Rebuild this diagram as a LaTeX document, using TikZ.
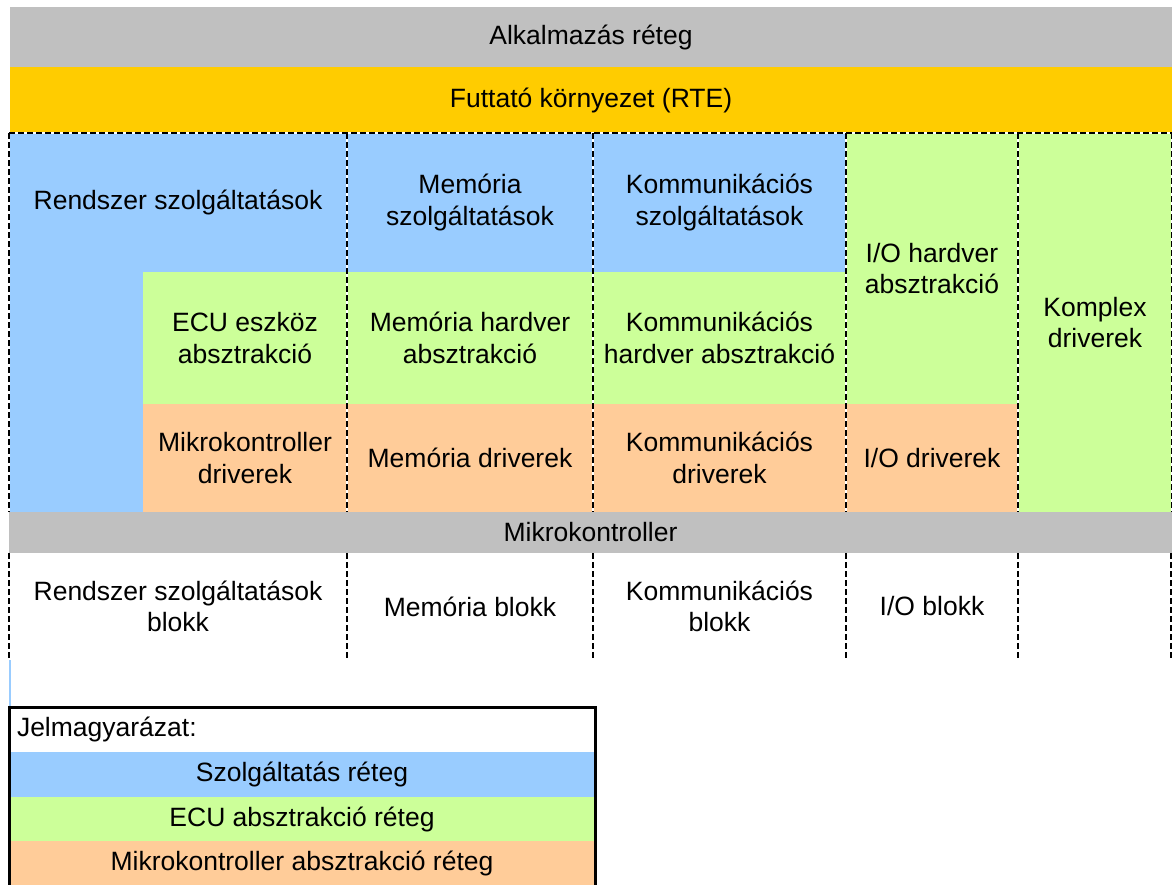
\documentclass[tikz,border=0pt]{standalone}
\usepackage{fontspec}
\setmainfont{Liberation Sans}
\definecolor{appgray}{HTML}{C0C0C0}
\definecolor{rteyellow}{HTML}{FFCC00}
\definecolor{svcblue}{HTML}{99CCFF}
\definecolor{ecugreen}{HTML}{CCFF99}
\definecolor{mcalorange}{HTML}{FFCC99}
% a filled layer box given by its corners: name, x1, y1, x2, y2, colour, text
\newcommand\layerbox[7]{%
  \node[cell,fill=#6,minimum width={(#4)-(#2)},minimum height={(#5)-(#3)}]
    (#1) at ({((#2)+(#4))/2},{((#3)+(#5))/2}) {#7};}
\begin{document}
\begin{tikzpicture}[x=1pt,y=-1pt,
  cell/.style={inner sep=0pt,outer sep=0pt,align=center,
    font=\fontsize{26.5}{31.5}\selectfont,text=black},
  sepwhite/.style={white,line width=2pt},
  sepdash/.style={black,line width=2pt,dash pattern=on 6pt off 3pt},
  legframe/.style={black,line width=3pt}]
\useasboundingbox (0,0) rectangle (1172,884);

% upper layers
\layerbox{app}{10}{7}{1172}{67}{appgray}{Alkalmazás réteg}
\layerbox{rte}{10}{67}{1172}{133}{rteyellow}{Futtató környezet (RTE)}

% service layer
\layerbox{sys}{9}{133}{347}{272}{svcblue}{Rendszer szolgáltatások}
\layerbox{sysl}{9}{272}{143}{512}{svcblue}{}
\layerbox{mems}{347}{133}{593}{272}{svcblue}{Memória\\szolgáltatások}
\layerbox{coms}{593}{133}{846}{272}{svcblue}{Kommunikációs\\szolgáltatások}

% ECU abstraction layer and complex drivers
\layerbox{ioh}{846}{133}{1018}{404}{ecugreen}{I/O hardver\\absztrakció}
\layerbox{cdd}{1018}{133}{1172}{512}{ecugreen}{Komplex\\driverek}
\layerbox{ecu}{143}{272}{347}{404}{ecugreen}{ECU eszköz\\absztrakció}
\layerbox{memh}{347}{272}{593}{404}{ecugreen}{Memória hardver\\absztrakció}
\layerbox{comh}{593}{272}{846}{404}{ecugreen}{Kommunikációs\\hardver absztrakció}

% microcontroller abstraction layer
\layerbox{mcud}{143}{404}{347}{512}{mcalorange}{Mikrokontroller\\driverek}
\layerbox{memd}{347}{404}{593}{512}{mcalorange}{Memória driverek}
\layerbox{comd}{593}{404}{846}{512}{mcalorange}{Kommunikációs\\driverek}
\layerbox{iod}{846}{404}{1018}{512}{mcalorange}{I/O driverek}

% microcontroller and its blocks
\layerbox{mcu}{9}{512}{1172}{553}{appgray}{Mikrokontroller}
\layerbox{sysb}{9}{553}{347}{660}{white}{Rendszer szolgáltatások\\blokk}
\layerbox{memb}{347}{553}{593}{660}{white}{Memória blokk}
\layerbox{comb}{593}{553}{846}{660}{white}{Kommunikációs\\blokk}
\layerbox{iob}{846}{553}{1018}{660}{white}{I/O blokk}
\layerbox{cddb}{1018}{553}{1171}{660}{white}{}
\layerbox{strip}{9}{660}{11}{707}{svcblue}{}

% dashed column separators
\foreach \a/\b in {sys.north west/cdd.north east}{
  \draw[sepwhite] (\a) -- (\b);
  \draw[sepdash] (\a) -- (\b);}
\foreach \a/\b in {sys.north west/sysl.south west,
                   mems.north west/memd.south west,
                   coms.north west/comd.south west,
                   ioh.north west/iod.south west,
                   cdd.north west/cdd.south west,
                   cdd.north east/cdd.south east,
                   sysb.north west/sysb.south west,
                   memb.north west/memb.south west,
                   comb.north west/comb.south west,
                   iob.north west/iob.south west,
                   cddb.north west/cddb.south west,
                   cddb.north east/cddb.south east}{
  \draw[sepwhite,line width=1.8pt] (\a) -- (\b);
  \draw[sepdash,line width=1.8pt] (\a) -- (\b);}

% legend
\layerbox{legtitle}{9}{707}{595}{752}{white}{}
\node[cell,anchor=west] (legtext) at ([xshift=8pt]legtitle.west) {Jelmagyarázat:};
\layerbox{legsvc}{9}{752}{595}{797}{svcblue}{Szolgáltatás réteg}
\layerbox{legecu}{9}{797}{595}{841}{ecugreen}{ECU absztrakció réteg}
\layerbox{legmcal}{9}{841}{595}{886}{mcalorange}{Mikrokontroller absztrakció réteg}
\draw[legframe] (legmcal.south west) -- (legtitle.north west)
  -- (legtitle.north east) -- (legmcal.south east);
\end{tikzpicture}
\end{document}
